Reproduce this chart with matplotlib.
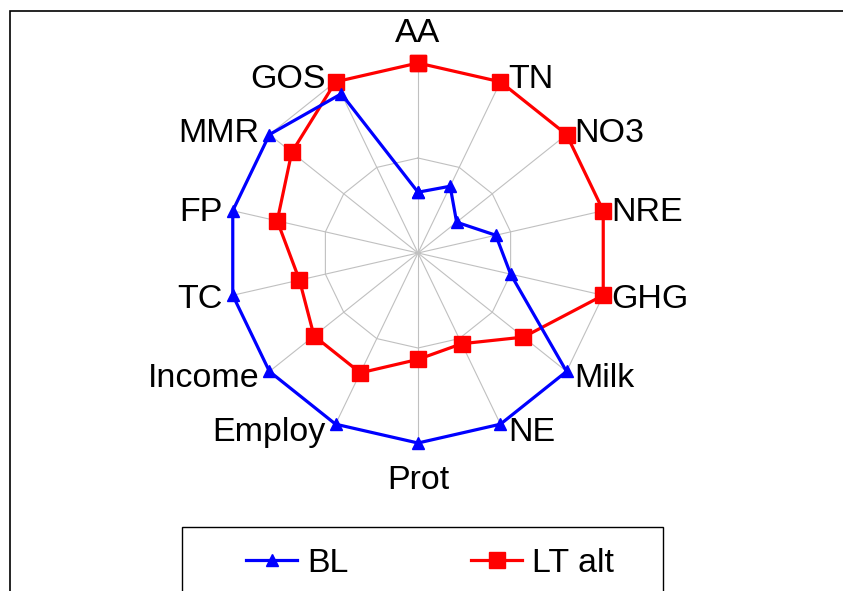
import numpy as np
import matplotlib.pyplot as plt
from matplotlib.patches import Rectangle
from matplotlib.lines import Line2D

plt.rcParams["font.family"] = ["Liberation Sans", "DejaVu Sans"]

categories = ["AA", "TN", "NO3", "NRE", "GHG", "Milk", "NE", "Prot",
              "Employ", "Income", "TC", "FP", "MMR", "GOS"]
bl = [0.32, 0.39, 0.26, 0.42, 0.50, 1.0, 1.0, 1.0, 1.0, 1.0, 1.0, 1.0, 1.0, 0.93]
lt_alt = [1.0, 1.0, 1.0, 1.0, 1.0, 0.71, 0.53, 0.56, 0.70, 0.70, 0.64, 0.76, 0.85, 1.0]
grid_levels = [0.5, 1.0]

W, H = 843, 591
fig = plt.figure(figsize=(W / 100, H / 100), dpi=100)

# polar axes centred at (418, 253) px, radius 190 px
cx, cy, rad = 418, 253, 190
ax = fig.add_axes([(cx - rad) / W, (H - cy - rad) / H, 2 * rad / W, 2 * rad / H],
                  projection="polar")
ax.set_theta_zero_location("N")
ax.set_theta_direction(-1)
ax.set_ylim(0, 1.0)
ax.grid(False)
ax.spines["polar"].set_visible(False)
ax.set_xticks([])
ax.set_yticks([])
ax.patch.set_visible(False)

n = len(categories)
angles = np.arange(n) * 2 * np.pi / n
closed = np.append(angles, angles[0])

# web grid
for lvl in grid_levels:
    ax.plot(closed, [lvl] * (n + 1), color="#c0c0c0", lw=0.8, zorder=1)
for a in angles:
    ax.plot([a, a], [0, 1.0], color="#c0c0c0", lw=0.8, zorder=1)

ax.plot(closed, np.append(lt_alt, lt_alt[0]), color="#ff0000", lw=2.3,
        marker="s", markersize=11.5, clip_on=False, zorder=3)
ax.plot(closed, np.append(bl, bl[0]), color="#0000ff", lw=2.3,
        marker="^", markersize=9, clip_on=False, zorder=4)

FS = 24.5
half_cap = 11.7  # px

# category labels (baseline anchored, like Excel's placement)
for a, lab in zip(angles, categories):
    s, c = np.sin(a), np.cos(a)
    if abs(s) < 1e-6:
        off = (0, 21.5) if c > 0 else (0, -46)
        ha = "center"
    else:
        d = np.clip(-6.5 * c, -5.6, 5.6)
        dy = -(d + half_cap)
        off = (8, dy) if s > 0 else (-10, dy)
        ha = "left" if s > 0 else "right"
    ax.annotate(lab, xy=(a, 1.0), xytext=off, textcoords="offset pixels",
                ha=ha, va="baseline", fontsize=FS, color="black",
                annotation_clip=False)

# outer chart frame (cropped)
fig.patches.append(Rectangle((10 / W, -0.5), 2, 0.5 + (H - 11) / H,
                             transform=fig.transFigure, fill=False,
                             edgecolor="black", lw=1.2))

# legend box (cropped at bottom)
fig.patches.append(Rectangle((182 / W, -0.5), (663 - 182) / W, 0.5 + (H - 527) / H,
                             transform=fig.transFigure, fill=False,
                             edgecolor="black", lw=1.0))
handles = [Line2D([], [], color="#0000ff", lw=2.3, marker="^", markersize=9),
           Line2D([], [], color="#ff0000", lw=2.3, marker="s", markersize=11.5)]
fig.legend(handles, ["BL", "LT alt"], loc="center left",
           bbox_to_anchor=(246 / W, 1 - 563 / H), ncol=2, frameon=False,
           fontsize=FS, handlelength=1.5, handletextpad=0.3, columnspacing=3.6,
           borderpad=0, borderaxespad=0)

fig.savefig("out.png", dpi=100)
